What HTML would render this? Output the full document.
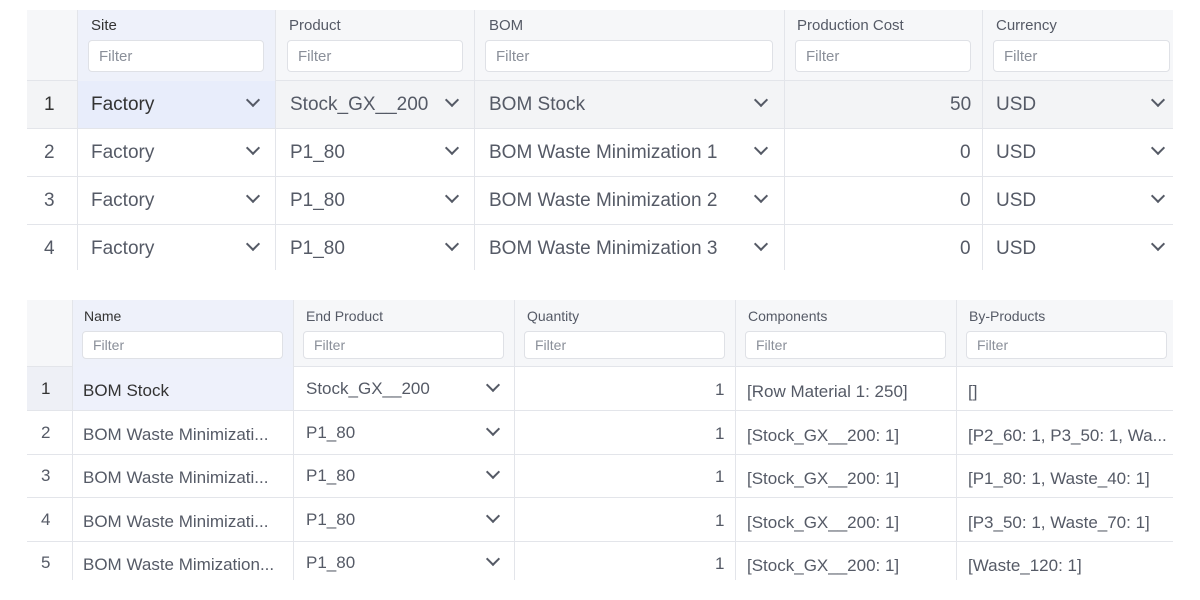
<!DOCTYPE html><html><head><style>
body{margin:0;width:1200px;height:600px;background:#fff;position:relative;overflow:hidden;font-family:"Liberation Sans",sans-serif;color:#555a66}
.a{position:absolute;box-sizing:border-box}
.t{white-space:nowrap}
.f{position:absolute;background:#fff;border:1px solid #dfe1e6;border-radius:4px;color:#8a8f99;box-sizing:border-box}
.chev{position:absolute;width:8px;height:8px;border-right:2px solid #555a66;border-bottom:2px solid #555a66;transform:rotate(45deg);margin-top:-3px}
</style></head><body>
<div class="a" style="left:27px;top:10px;width:1146px;height:71px;background:#f6f7f9;border-bottom:1px solid #e3e5ea"></div>
<div class="a" style="left:77px;top:10px;width:199px;height:71px;background:#eef1fa"></div>
<div class="a" style="left:27px;top:81px;width:1146px;height:48px;background:#f3f4f6"></div>
<div class="a" style="left:77px;top:81px;width:199px;height:48px;background:#e8edfb"></div>
<div class="a" style="left:27px;top:128px;width:1146px;height:1px;background:#e3e5ea"></div>
<div class="a" style="left:27px;top:176px;width:1146px;height:1px;background:#e3e5ea"></div>
<div class="a" style="left:27px;top:224px;width:1146px;height:1px;background:#e3e5ea"></div>
<div class="a" style="left:77px;top:10px;width:1px;height:260px;background:#e3e5ea"></div>
<div class="a" style="left:275px;top:10px;width:1px;height:260px;background:#e3e5ea"></div>
<div class="a" style="left:474px;top:10px;width:1px;height:260px;background:#e3e5ea"></div>
<div class="a" style="left:784px;top:10px;width:1px;height:260px;background:#e3e5ea"></div>
<div class="a" style="left:982px;top:10px;width:1px;height:260px;background:#e3e5ea"></div>
<div class="a t" style="left:91px;top:17px;font-size:15px;color:#333">Site</div>
<div class="a t" style="left:289px;top:17px;font-size:15px">Product</div>
<div class="a t" style="left:489px;top:17px;font-size:15px">BOM</div>
<div class="a t" style="left:797px;top:17px;font-size:15px">Production Cost</div>
<div class="a t" style="left:996px;top:17px;font-size:15px">Currency</div>
<div class="f" style="left:88px;top:40px;width:176px;height:32px;padding:7px 10px;font-size:15px">Filter</div>
<div class="f" style="left:287px;top:40px;width:176px;height:32px;padding:7px 10px;font-size:15px">Filter</div>
<div class="f" style="left:485px;top:40px;width:288px;height:32px;padding:7px 10px;font-size:15px">Filter</div>
<div class="f" style="left:795px;top:40px;width:176px;height:32px;padding:7px 10px;font-size:15px">Filter</div>
<div class="f" style="left:993px;top:40px;width:177px;height:32px;padding:7px 10px;font-size:15px">Filter</div>
<div style="position:absolute;left:0;top:0;font-size:19px">
<div class="a t" style="left:44px;top:94px;color:#333">1</div><div class="a t" style="left:91px;top:94px;color:#333">Factory</div><div class="a t" style="left:290px;top:94px">Stock_GX__200</div><div class="a t" style="left:489px;top:94px">BOM Stock</div><div class="a t" style="left:950px;top:94px">50</div><div class="a t" style="left:996px;top:94px">USD</div>
<div class="a t" style="left:44px;top:142px">2</div><div class="a t" style="left:91px;top:142px">Factory</div><div class="a t" style="left:290px;top:142px">P1_80</div><div class="a t" style="left:489px;top:142px">BOM Waste Minimization 1</div><div class="a t" style="left:960px;top:142px">0</div><div class="a t" style="left:996px;top:142px">USD</div>
<div class="a t" style="left:44px;top:190px">3</div><div class="a t" style="left:91px;top:190px">Factory</div><div class="a t" style="left:290px;top:190px">P1_80</div><div class="a t" style="left:489px;top:190px">BOM Waste Minimization 2</div><div class="a t" style="left:960px;top:190px">0</div><div class="a t" style="left:996px;top:190px">USD</div>
<div class="a t" style="left:44px;top:238px">4</div><div class="a t" style="left:91px;top:238px">Factory</div><div class="a t" style="left:290px;top:238px">P1_80</div><div class="a t" style="left:489px;top:238px">BOM Waste Minimization 3</div><div class="a t" style="left:960px;top:238px">0</div><div class="a t" style="left:996px;top:238px">USD</div>
</div>
<div class="chev" style="left:248px;top:98px"></div><div class="chev" style="left:447px;top:98px"></div><div class="chev" style="left:756px;top:98px"></div><div class="chev" style="left:1153px;top:98px"></div>
<div class="chev" style="left:248px;top:146px"></div><div class="chev" style="left:447px;top:146px"></div><div class="chev" style="left:756px;top:146px"></div><div class="chev" style="left:1153px;top:146px"></div>
<div class="chev" style="left:248px;top:194px"></div><div class="chev" style="left:447px;top:194px"></div><div class="chev" style="left:756px;top:194px"></div><div class="chev" style="left:1153px;top:194px"></div>
<div class="chev" style="left:248px;top:242px"></div><div class="chev" style="left:447px;top:242px"></div><div class="chev" style="left:756px;top:242px"></div><div class="chev" style="left:1153px;top:242px"></div>

<div class="a" style="left:27px;top:300px;width:1146px;height:67px;background:#f6f7f9;border-bottom:1px solid #e3e5ea"></div>
<div class="a" style="left:72px;top:300px;width:221px;height:67px;background:#eef1fa"></div>
<div class="a" style="left:27px;top:367px;width:45px;height:43px;background:#eef0f6"></div>
<div class="a" style="left:72px;top:367px;width:221px;height:43px;background:#eef1fb"></div>
<div class="a" style="left:27px;top:410px;width:1146px;height:1px;background:#e3e5ea"></div>
<div class="a" style="left:27px;top:454px;width:1146px;height:1px;background:#e3e5ea"></div>
<div class="a" style="left:27px;top:497px;width:1146px;height:1px;background:#e3e5ea"></div>
<div class="a" style="left:27px;top:541px;width:1146px;height:1px;background:#e3e5ea"></div>
<div class="a" style="left:72px;top:300px;width:1px;height:280px;background:#e3e5ea"></div>
<div class="a" style="left:293px;top:300px;width:1px;height:280px;background:#e3e5ea"></div>
<div class="a" style="left:514px;top:300px;width:1px;height:280px;background:#e3e5ea"></div>
<div class="a" style="left:735px;top:300px;width:1px;height:280px;background:#e3e5ea"></div>
<div class="a" style="left:956px;top:300px;width:1px;height:280px;background:#e3e5ea"></div>
<div style="position:absolute;left:0;top:0;font-size:14px">
<div class="a t" style="left:84px;top:308px;color:#333">Name</div><div class="a t" style="left:306px;top:308px">End Product</div><div class="a t" style="left:527px;top:308px">Quantity</div><div class="a t" style="left:748px;top:308px">Components</div><div class="a t" style="left:969px;top:308px">By-Products</div>
</div>
<div class="f" style="left:82px;top:331px;width:201px;height:28px;padding:5px 10px;font-size:14px">Filter</div>
<div class="f" style="left:303px;top:331px;width:201px;height:28px;padding:5px 10px;font-size:14px">Filter</div>
<div class="f" style="left:524px;top:331px;width:201px;height:28px;padding:5px 10px;font-size:14px">Filter</div>
<div class="f" style="left:745px;top:331px;width:201px;height:28px;padding:5px 10px;font-size:14px">Filter</div>
<div class="f" style="left:966px;top:331px;width:201px;height:28px;padding:5px 10px;font-size:14px">Filter</div>
<div style="position:absolute;left:0;top:0;font-size:17px">
<div class="a t" style="left:41px;top:379px;color:#333">1</div><div class="a t" style="left:83px;top:381px;color:#333">BOM Stock</div><div class="a t" style="left:306px;top:379px">Stock_GX__200</div><div class="a t" style="left:715px;top:380px">1</div><div class="a t" style="left:747px;top:382px">[Row Material 1: 250]</div><div class="a t" style="left:968px;top:382px">[]</div>
<div class="a t" style="left:41px;top:423px">2</div><div class="a t" style="left:83px;top:425px">BOM Waste Minimizati...</div><div class="a t" style="left:306px;top:423px">P1_80</div><div class="a t" style="left:715px;top:424px">1</div><div class="a t" style="left:747px;top:426px">[Stock_GX__200: 1]</div><div class="a t" style="left:968px;top:426px">[P2_60: 1, P3_50: 1, Wa...</div>
<div class="a t" style="left:41px;top:466px">3</div><div class="a t" style="left:83px;top:468px">BOM Waste Minimizati...</div><div class="a t" style="left:306px;top:466px">P1_80</div><div class="a t" style="left:715px;top:467px">1</div><div class="a t" style="left:747px;top:469px">[Stock_GX__200: 1]</div><div class="a t" style="left:968px;top:469px">[P1_80: 1, Waste_40: 1]</div>
<div class="a t" style="left:41px;top:510px">4</div><div class="a t" style="left:83px;top:512px">BOM Waste Minimizati...</div><div class="a t" style="left:306px;top:510px">P1_80</div><div class="a t" style="left:715px;top:511px">1</div><div class="a t" style="left:747px;top:513px">[Stock_GX__200: 1]</div><div class="a t" style="left:968px;top:513px">[P3_50: 1, Waste_70: 1]</div>
<div class="a t" style="left:41px;top:553px">5</div><div class="a t" style="left:83px;top:555px">BOM Waste Mimization...</div><div class="a t" style="left:306px;top:553px">P1_80</div><div class="a t" style="left:715px;top:554px">1</div><div class="a t" style="left:747px;top:556px">[Stock_GX__200: 1]</div><div class="a t" style="left:968px;top:556px">[Waste_120: 1]</div>
</div>
<div class="chev" style="left:488px;top:383px"></div><div class="chev" style="left:488px;top:427px"></div><div class="chev" style="left:488px;top:470px"></div><div class="chev" style="left:488px;top:514px"></div><div class="chev" style="left:488px;top:557px"></div>
</body></html>
